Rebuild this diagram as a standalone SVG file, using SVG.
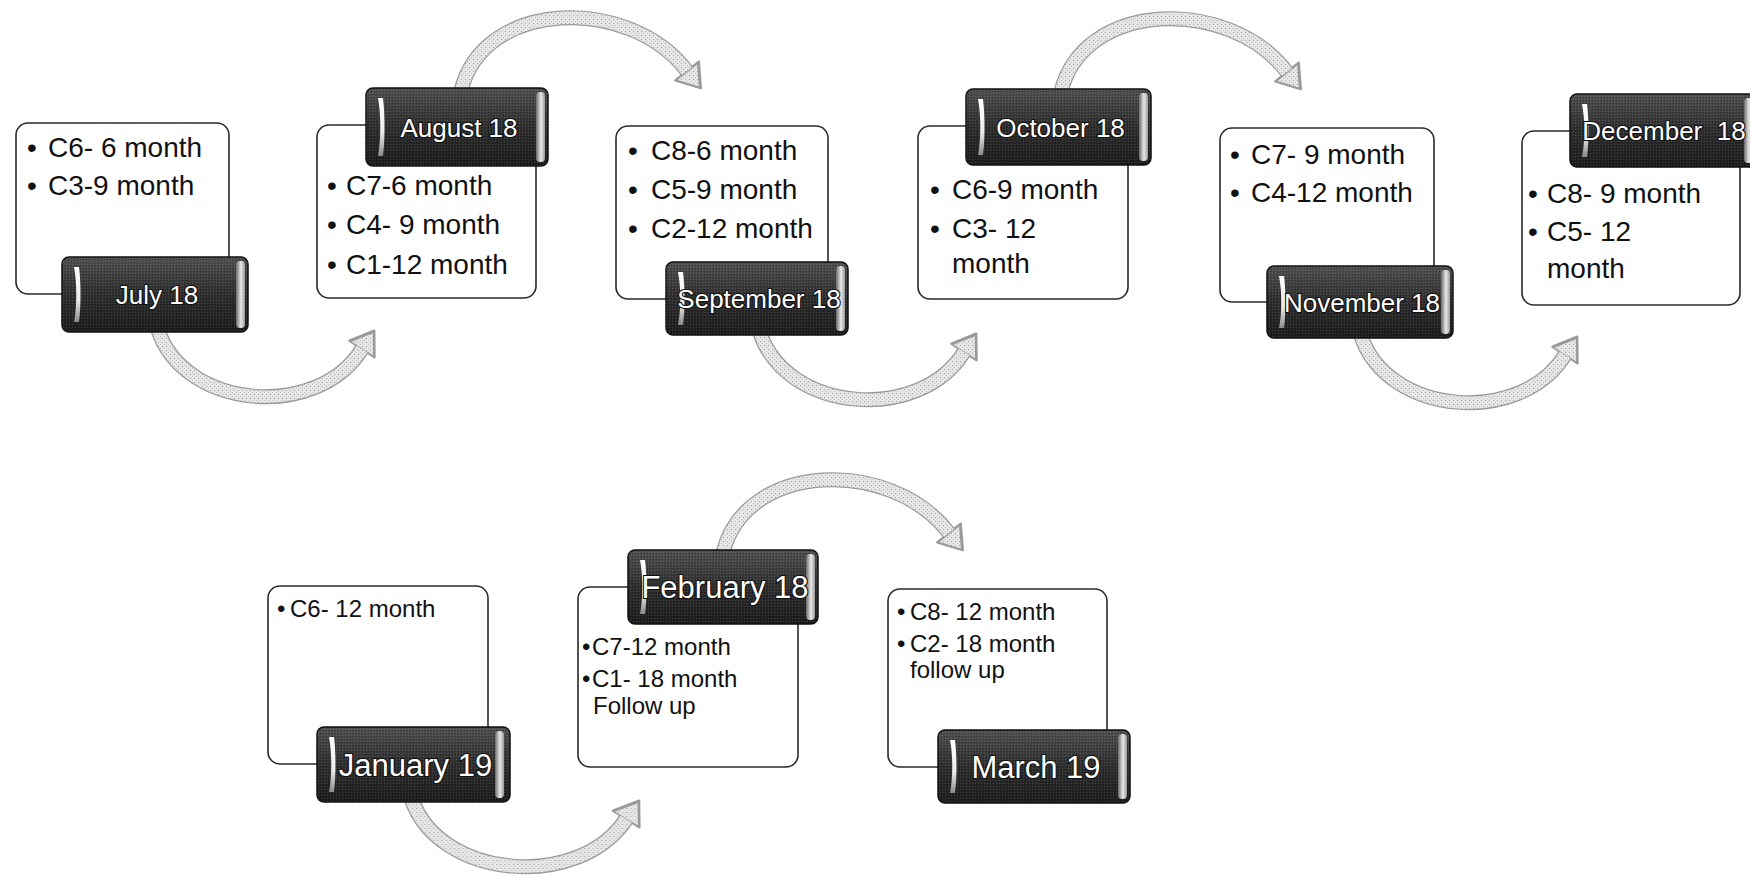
<svg xmlns="http://www.w3.org/2000/svg" xmlns:xlink="http://www.w3.org/1999/xlink" width="1750" height="875" viewBox="0 0 1750 875">
<defs>
<style>
.box{fill:#fff;stroke:#2a2a2a;stroke-width:1.6}
.bt{font-family:"Liberation Sans",Arial,sans-serif;font-size:28px;fill:#111}
.bs{font-family:"Liberation Sans",Arial,sans-serif;font-size:24px;fill:#111}
.lbl{fill:url(#gDark);stroke:#111;stroke-width:1.5}
.grain{fill:url(#grain);stroke:none}
.hl{fill:url(#gHL)}
.hr{fill:url(#gHR)}
.lt{font-family:"Liberation Sans",Arial,sans-serif;font-size:26px;fill:#fff;stroke:#111;stroke-width:2.2;paint-order:stroke;text-anchor:middle;white-space:pre}
.lt2{font-size:31px}
.aOut{fill:none;stroke:#9a9a9a;stroke-width:15}
.aIn{fill:none;stroke:url(#stip);stroke-width:12.6}
.hOut{fill:#9a9a9a;stroke:#9a9a9a;stroke-width:2.4;stroke-linejoin:round}
.hIn{fill:url(#stip)}
</style>
<linearGradient id="gDark" x1="0" y1="0" x2="0" y2="1">
<stop offset="0" stop-color="#505050"/><stop offset="0.5" stop-color="#2e2e2e"/><stop offset="1" stop-color="#1c1c1c"/>
</linearGradient>
<linearGradient id="gHL" x1="0" y1="0" x2="0" y2="1">
<stop offset="0" stop-color="#fff"/><stop offset="0.6" stop-color="#ececec"/><stop offset="1" stop-color="#8a8a8a"/>
</linearGradient>
<linearGradient id="gHR" x1="0" y1="0" x2="1" y2="0">
<stop offset="0" stop-color="#6a6a6a"/><stop offset="0.55" stop-color="#e8e8e8"/><stop offset="1" stop-color="#9a9a9a"/>
</linearGradient>
<pattern id="grain" width="3" height="3" patternUnits="userSpaceOnUse">
<rect width="1" height="1" fill="#ffffff" opacity="0.14"/><rect x="2" y="1" width="1" height="1" fill="#000" opacity="0.25"/>
</pattern>
<pattern id="stip" width="4" height="4" patternUnits="userSpaceOnUse">
<rect width="4" height="4" fill="#e6e6e6"/><rect width="1" height="1" fill="#a4a4a4"/><rect x="2" y="2" width="1" height="1" fill="#c4c4c4"/>
</pattern>
<g id="arcDown">
<path class="aOut" d="M0,0 C27,80 160,90 204,19"/>
<polygon class="hOut" points="191.5,10.7 216.2,0.7 216.5,27.3"/>
<polygon class="hIn" points="193.5,11.8 214.8,3.2 215.1,25.3"/>
<path class="aIn" d="M0,0 C27,80 160,90 204,19"/>
</g>
<g id="arcUp">
<path class="aOut" d="M0,0 C22,-92 168,-96 226,-20"/>
<polygon class="hOut" points="214.3,-10.6 239.8,-2.9 237.7,-29.4"/>
<polygon class="hIn" points="216.5,-10.9 237.8,-4.5 236.1,-26.6"/>
<path class="aIn" d="M0,0 C22,-92 168,-96 226,-20"/>
</g>
</defs>
<rect width="1750" height="875" fill="#fff"/>

<g id="connectors">
<use xlink:href="#arcDown" href="#arcDown" transform="translate(158,330)"/>
<use xlink:href="#arcUp" href="#arcUp" transform="translate(461,91)"/>
<use xlink:href="#arcDown" href="#arcDown" transform="translate(760,333)"/>
<use xlink:href="#arcUp" href="#arcUp" transform="translate(1061,92)"/>
<use xlink:href="#arcDown" href="#arcDown" transform="translate(1361,336)"/>
<use xlink:href="#arcDown" href="#arcDown" transform="translate(412,800) scale(1.05,1)"/>
<use xlink:href="#arcUp" href="#arcUp" transform="translate(723,553)"/>
</g>

<g id="july-18">
<rect class="box" x="16" y="123" width="213" height="171" rx="12"/>
<text class="bt"><tspan x="27" y="157">•</tspan><tspan x="48" y="157">C6- 6 month</tspan><tspan x="27" y="195">•</tspan><tspan x="48" y="195">C3-9 month</tspan></text>
<rect class="lbl" x="62" y="257" width="186" height="75" rx="7"/>
<rect class="grain" x="62" y="257" width="186" height="75" rx="7"/>
<path class="hl" d="M74,267 c3,15 3,40 0,55 l5,0 c2,-15 2,-40 0,-55 z"/>
<rect class="hr" x="236" y="261" width="9" height="67" rx="4"/>
<text class="lt" x="157" y="304">July 18</text>
</g>

<g id="august-18">
<rect class="box" x="317" y="125" width="219" height="173" rx="12"/>
<text class="bt"><tspan x="327" y="195">•</tspan><tspan x="346" y="195">C7-6 month</tspan><tspan x="327" y="234">•</tspan><tspan x="346" y="234">C4- 9 month</tspan><tspan x="327" y="274">•</tspan><tspan x="346" y="274">C1-12 month</tspan></text>
<rect class="lbl" x="366" y="88" width="182" height="78" rx="7"/>
<rect class="grain" x="366" y="88" width="182" height="78" rx="7"/>
<path class="hl" d="M378,98 c3,15 3,43 0,58 l5,0 c2,-15 2,-43 0,-58 z"/>
<rect class="hr" x="536" y="92" width="9" height="70" rx="4"/>
<text class="lt" x="459" y="136.5">August 18</text>
</g>

<g id="september-18">
<rect class="box" x="616" y="126" width="212" height="173" rx="12"/>
<text class="bt"><tspan x="628" y="160">•</tspan><tspan x="651" y="160">C8-6 month</tspan><tspan x="628" y="199">•</tspan><tspan x="651" y="199">C5-9 month</tspan><tspan x="628" y="238">•</tspan><tspan x="651" y="238">C2-12 month</tspan></text>
<rect class="lbl" x="666" y="262" width="182" height="73" rx="7"/>
<rect class="grain" x="666" y="262" width="182" height="73" rx="7"/>
<path class="hl" d="M678,272 c3,15 3,38 0,53 l5,0 c2,-15 2,-38 0,-53 z"/>
<rect class="hr" x="836" y="266" width="9" height="65" rx="4"/>
<text class="lt" x="759" y="308">September 18</text>
</g>

<g id="october-18">
<rect class="box" x="918" y="126" width="210" height="173" rx="12"/>
<text class="bt"><tspan x="930" y="199">•</tspan><tspan x="952" y="199">C6-9 month</tspan><tspan x="930" y="238">•</tspan><tspan x="952" y="238">C3- 12</tspan><tspan x="952" y="273">month</tspan></text>
<rect class="lbl" x="966" y="89" width="185" height="76" rx="7"/>
<rect class="grain" x="966" y="89" width="185" height="76" rx="7"/>
<path class="hl" d="M978,99 c3,15 3,41 0,56 l5,0 c2,-15 2,-41 0,-56 z"/>
<rect class="hr" x="1139" y="93" width="9" height="68" rx="4"/>
<text class="lt" x="1060.5" y="136.5">October 18</text>
</g>

<g id="november-18">
<rect class="box" x="1220" y="128" width="214" height="174" rx="12"/>
<text class="bt"><tspan x="1230" y="164">•</tspan><tspan x="1251" y="164">C7- 9 month</tspan><tspan x="1230" y="202">•</tspan><tspan x="1251" y="202">C4-12 month</tspan></text>
<rect class="lbl" x="1267" y="266" width="186" height="72" rx="7"/>
<rect class="grain" x="1267" y="266" width="186" height="72" rx="7"/>
<path class="hl" d="M1279,276 c3,15 3,37 0,52 l5,0 c2,-15 2,-37 0,-52 z"/>
<rect class="hr" x="1441" y="270" width="9" height="64" rx="4"/>
<text class="lt" x="1362" y="311.5">November 18</text>
</g>

<g id="december-18">
<rect class="box" x="1522" y="131" width="218" height="174" rx="12"/>
<text class="bt"><tspan x="1528" y="203">•</tspan><tspan x="1547" y="203">C8- 9 month</tspan><tspan x="1528" y="241">•</tspan><tspan x="1547" y="241">C5- 12</tspan><tspan x="1547" y="278">month</tspan></text>
<rect class="lbl" x="1570" y="94" width="186" height="73" rx="7"/>
<rect class="grain" x="1570" y="94" width="186" height="73" rx="7"/>
<path class="hl" d="M1582,104 c3,15 3,38 0,53 l5,0 c2,-15 2,-38 0,-53 z"/>
<rect class="hr" x="1744" y="98" width="9" height="65" rx="4"/>
<text class="lt" x="1664" y="140" xml:space="preserve">December  18</text>
</g>

<g id="january-19">
<rect class="box" x="268" y="586" width="220" height="178" rx="12"/>
<text class="bs"><tspan x="277" y="617">•</tspan><tspan x="290" y="617">C6- 12 month</tspan></text>
<rect class="lbl" x="317" y="727" width="193" height="75" rx="7"/>
<rect class="grain" x="317" y="727" width="193" height="75" rx="7"/>
<path class="hl" d="M329,737 c3,15 3,40 0,55 l5,0 c2,-15 2,-40 0,-55 z"/>
<rect class="hr" x="495" y="731" width="9" height="67" rx="4"/>
<text class="lt lt2" x="415.5" y="775.5">January 19</text>
</g>

<g id="february-18">
<rect class="box" x="578" y="587" width="220" height="180" rx="12"/>
<text class="bs"><tspan x="582" y="655">•</tspan><tspan x="592" y="655">C7-12 month</tspan><tspan x="582" y="687">•</tspan><tspan x="592" y="687">C1- 18 month</tspan><tspan x="593" y="714">Follow up</tspan></text>
<rect class="lbl" x="628" y="550" width="190" height="74" rx="7"/>
<rect class="grain" x="628" y="550" width="190" height="74" rx="7"/>
<path class="hl" d="M640,560 c3,15 3,39 0,54 l5,0 c2,-15 2,-39 0,-54 z"/>
<rect class="hr" x="806" y="554" width="9" height="66" rx="4"/>
<text class="lt lt2" x="725" y="598">February 18</text>
</g>

<g id="march-19">
<rect class="box" x="888" y="589" width="219" height="178" rx="12"/>
<text class="bs"><tspan x="897" y="620">•</tspan><tspan x="910" y="620">C8- 12 month</tspan><tspan x="897" y="652">•</tspan><tspan x="910" y="652">C2- 18 month</tspan><tspan x="910" y="678">follow up</tspan></text>
<rect class="lbl" x="938" y="730" width="192" height="73" rx="7"/>
<rect class="grain" x="938" y="730" width="192" height="73" rx="7"/>
<path class="hl" d="M950,740 c3,15 3,38 0,53 l5,0 c2,-15 2,-38 0,-53 z"/>
<rect class="hr" x="1118" y="734" width="9" height="65" rx="4"/>
<text class="lt lt2" x="1036" y="777.5">March 19</text>
</g>
</svg>
